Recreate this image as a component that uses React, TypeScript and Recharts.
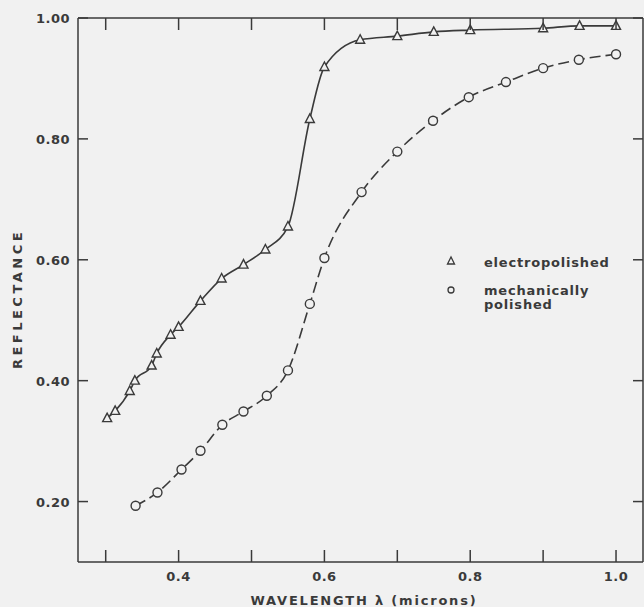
import { LineChart, Line, XAxis, YAxis, Legend } from "recharts";

// electropolished (triangles)
const electroWavelength = [0.302, 0.313, 0.333, 0.34, 0.363, 0.37, 0.389, 0.4, 0.43, 0.459, 0.489, 0.519, 0.55, 0.58, 0.6, 0.649, 0.7, 0.75, 0.8, 0.9, 0.95, 1.0];
const electroReflectance = [0.338, 0.35, 0.383, 0.4, 0.425, 0.445, 0.476, 0.489, 0.532, 0.569, 0.592, 0.617, 0.655, 0.833, 0.919, 0.964, 0.97, 0.977, 0.98, 0.983, 0.987, 0.987];

// mechanically polished (circles)
const mechWavelength = [0.341, 0.371, 0.404, 0.43, 0.46, 0.489, 0.521, 0.55, 0.58, 0.6, 0.651, 0.7, 0.749, 0.798, 0.849, 0.9, 0.949, 1.0];
const mechReflectance = [0.193, 0.215, 0.253, 0.284, 0.327, 0.349, 0.375, 0.417, 0.527, 0.603, 0.712, 0.779, 0.83, 0.869, 0.894, 0.917, 0.931, 0.94];

const xTicks = [0.3, 0.4, 0.5, 0.6, 0.7, 0.8, 0.9, 1.0];
const xLabelled = [0.4, 0.6, 0.8, 1.0];
const yTicks = [0.2, 0.4, 0.6, 0.8, 1.0];

const electroData = electroWavelength.map((x, i) => ({ x, y: electroReflectance[i] }));
const mechData = mechWavelength.map((x, i) => ({ x, y: mechReflectance[i] }));

const INK = "#3a3a3a";
const BG = "#f1f1f1";
const FONT = "'DejaVu Sans', sans-serif";

const TriangleDot = (props: any) => {
  const { cx, cy } = props;
  if (cx == null || cy == null) return null;
  return (
    <polygon
      points={`${cx},${cy - 5} ${cx - 4.5},${cy + 3.5} ${cx + 4.5},${cy + 3.5}`}
      fill={BG}
      stroke={INK}
      strokeWidth={1.4}
    />
  );
};

const CircleDot = (props: any) => {
  const { cx, cy } = props;
  if (cx == null || cy == null) return null;
  return <circle cx={cx} cy={cy} r={4.5} fill={BG} stroke={INK} strokeWidth={1.4} />;
};

const BottomTick = ({ x, y, payload }: any) => {
  const v = Math.round(payload.value * 10) / 10;
  return (
    <g>
      <line x1={x} x2={x} y1={y} y2={y - 12} stroke={INK} strokeWidth={1.5} />
      {xLabelled.includes(v) && (
        <text x={x} y={y + 19} textAnchor="middle" fill={INK} fontSize={13} fontFamily={FONT} fontWeight="bold" letterSpacing={0.5}>
          {v.toFixed(1)}
        </text>
      )}
    </g>
  );
};

const TopTick = ({ x, y }: any) => (
  <line x1={x} x2={x} y1={y} y2={y + 12} stroke={INK} strokeWidth={1.5} />
);

const LeftTick = ({ x, y, payload }: any) => (
  <g>
    <line x1={x} x2={x + 10} y1={y} y2={y} stroke={INK} strokeWidth={1.5} />
    <text x={x - 8} y={y + 5} textAnchor="end" fill={INK} fontSize={13} fontFamily={FONT} fontWeight="bold" letterSpacing={0.5}>
      {payload.value.toFixed(2)}
    </text>
  </g>
);

const RightTick = ({ x, y }: any) => (
  <line x1={x} x2={x - 10} y1={y} y2={y} stroke={INK} strokeWidth={1.5} />
);

const LegendBox = () => (
  <svg width={200} height={70}>
    <polygon points="11,7 7.5,14 14.5,14" fill="none" stroke={INK} strokeWidth={1.3} />
    <text x={44} y={17} fill={INK} fontSize={13} fontFamily={FONT} fontWeight="bold" letterSpacing={0.8}>
      electropolished
    </text>
    <circle cx={11} cy={40} r={3} fill="none" stroke={INK} strokeWidth={1.3} />
    <text x={44} y={45} fill={INK} fontSize={13} fontFamily={FONT} fontWeight="bold" letterSpacing={0.8}>
      mechanically
    </text>
    <text x={44} y={59} fill={INK} fontSize={13} fontFamily={FONT} fontWeight="bold" letterSpacing={0.8}>
      polished
    </text>
  </svg>
);

export default function App() {
  return (
    <div style={{ position: "absolute", left: 0, top: 0, width: 644, height: 607, background: BG, overflow: "hidden" }}>
      <LineChart width={644} height={607} margin={{ top: 17, right: 0, bottom: 44, left: 77 }}>
        <XAxis
          xAxisId="b"
          type="number"
          dataKey="x"
          domain={[0.262, 1.037]}
          ticks={xTicks}
          allowDataOverflow
          height={1}
          tickSize={0}
          tickMargin={0}
          tickLine={false}
          axisLine={{ stroke: INK, strokeWidth: 1.5 }}
          tick={<BottomTick />}
          label={{
            content: () => (
              <text x={364} y={605} textAnchor="middle" fill={INK} fontSize={13} fontFamily={FONT} fontWeight="bold" letterSpacing={1.8}>
                WAVELENGTH λ (microns)
              </text>
            ),
          }}
        />
        <XAxis
          xAxisId="t"
          orientation="top"
          type="number"
          dataKey="x"
          domain={[0.262, 1.037]}
          ticks={xTicks}
          allowDataOverflow
          height={1}
          tickSize={0}
          tickMargin={0}
          tickLine={false}
          axisLine={{ stroke: INK, strokeWidth: 1.5 }}
          tick={<TopTick />}
        />
        <YAxis
          yAxisId="l"
          type="number"
          domain={[0.1, 1.0]}
          ticks={yTicks}
          allowDataOverflow
          width={1}
          tickSize={0}
          tickMargin={0}
          tickLine={false}
          axisLine={{ stroke: INK, strokeWidth: 1.5 }}
          tick={<LeftTick />}
          label={{
            content: () => (
              <text x={22} y={299} transform="rotate(-90 22 299)" textAnchor="middle" fill={INK} fontSize={13} fontFamily={FONT} fontWeight="bold" letterSpacing={3.5}>
                REFLECTANCE
              </text>
            ),
          }}
        />
        <YAxis
          yAxisId="r"
          orientation="right"
          type="number"
          domain={[0.1, 1.0]}
          ticks={yTicks}
          allowDataOverflow
          width={1}
          tickSize={0}
          tickMargin={0}
          tickLine={false}
          axisLine={{ stroke: INK, strokeWidth: 1.5 }}
          tick={<RightTick />}
        />
        <Legend
          layout="horizontal"
          verticalAlign="middle"
          content={<LegendBox />}
          wrapperStyle={{ position: "absolute", left: 440, top: 250, width: 200 }}
        />
        <Line
          xAxisId="b"
          yAxisId="l"
          data={electroData}
          dataKey="y"
          name="electropolished"
          type="monotone"
          stroke={INK}
          strokeWidth={1.6}
          dot={<TriangleDot />}
          isAnimationActive={false}
        />
        <Line
          xAxisId="b"
          yAxisId="l"
          data={mechData}
          dataKey="y"
          name="mechanically polished"
          type="monotone"
          stroke={INK}
          strokeWidth={1.6}
          strokeDasharray="11 5"
          dot={<CircleDot />}
          isAnimationActive={false}
        />
      </LineChart>
    </div>
  );
}
